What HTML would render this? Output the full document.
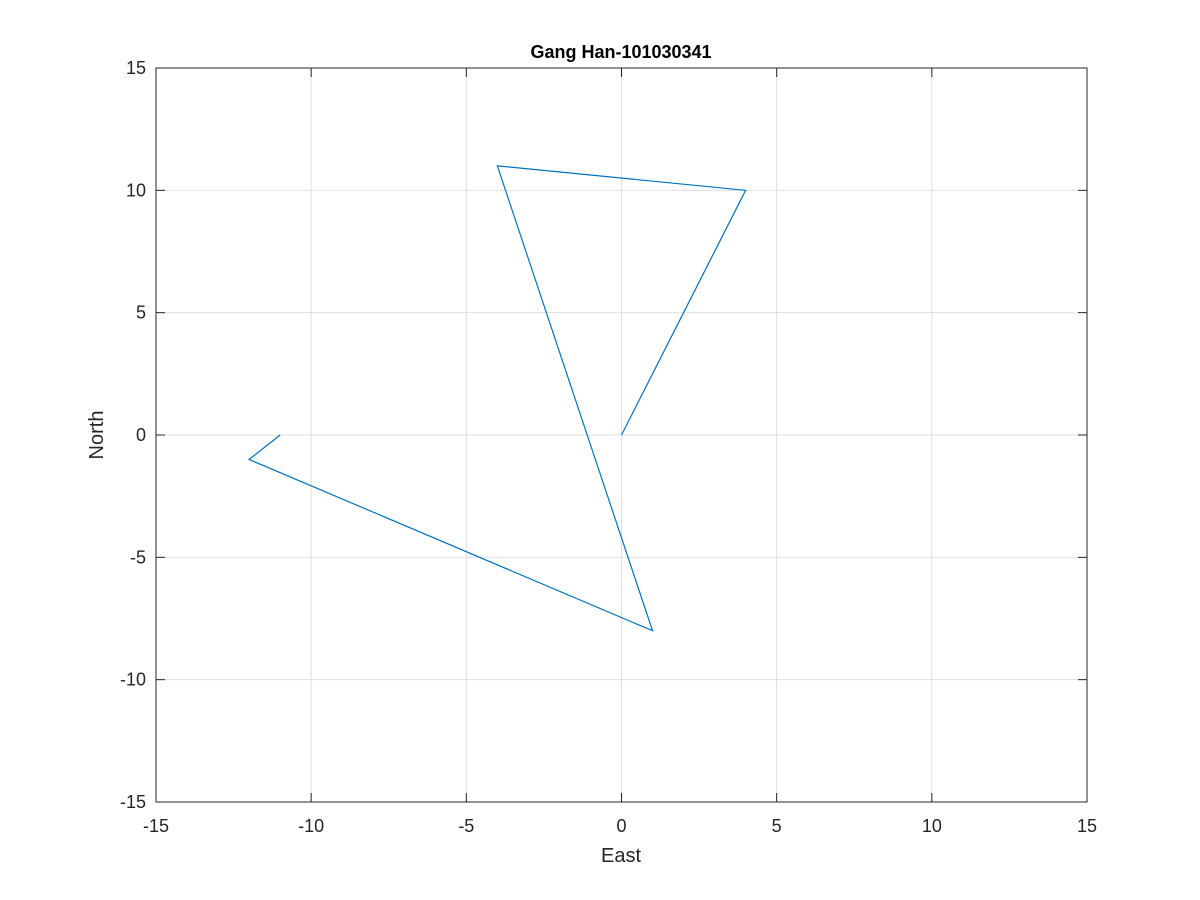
<!DOCTYPE html>
<html><head><meta charset="utf-8"><style>
body{margin:0;background:#fff;}
svg{display:block;font-family:"Liberation Sans",Arial,sans-serif;}
</style></head><body>
<svg id="chart" width="1200" height="900">
<rect width="1200" height="900" fill="#fff"/>
<g id="grid"></g>
<g id="ticks"></g>
<polyline id="path" fill="none" stroke="#0072bd" stroke-width="1.2"/>
<rect x="156" y="68" width="931" height="734" fill="none" stroke="#262626" stroke-width="1"/>
<text x="621" y="58" text-anchor="middle" font-size="18" font-weight="bold" fill="#000">Gang Han-101030341</text>
<text x="621" y="862" text-anchor="middle" font-size="20" fill="#262626">East</text>
<text x="103" y="435" text-anchor="middle" font-size="20" fill="#262626" transform="rotate(-90 103 435)">North</text>
</svg>
<script>
const eastValues=[0,4,-4,1,-12,-11];
const northValues=[0,10,11,-8,-1,0];
const xTicks=[-15,-10,-5,0,5,10,15];
const yTicks=[-15,-10,-5,0,5,10,15];
const L=156,R=1087,T=68,B=802;
function sx(v){return L+(v+15)/30*(R-L);}
function sy(v){return B-(v+15)/30*(B-T);}
const NS="http://www.w3.org/2000/svg";
const grid=document.getElementById('grid'),ticks=document.getElementById('ticks');
function mk(tag,attrs,parent){const e=document.createElementNS(NS,tag);for(const k in attrs)e.setAttribute(k,attrs[k]);parent.appendChild(e);return e;}
xTicks.forEach(t=>{
 const x=sx(t);
 const g=mk('line',{x1:x,x2:x,y1:T,y2:B,stroke:'#dfdfdf','stroke-width':1},grid);
 
 
 mk('line',{x1:x,x2:x,y1:B,y2:B-9,stroke:'#262626'},ticks);
 mk('line',{x1:x,x2:x,y1:T,y2:T+9,stroke:'#262626'},ticks);
 const tx=mk('text',{x:x,y:832,'text-anchor':'middle','font-size':18,fill:'#262626'},ticks);
 tx.textContent=t;
 
 
});
yTicks.forEach(t=>{
 const y=sy(t);
 const g=mk('line',{x1:L,x2:R,y1:y,y2:y,stroke:'#dfdfdf','stroke-width':1},grid);
 
 
 mk('line',{x1:L,x2:L+9,y1:y,y2:y,stroke:'#262626'},ticks);
 mk('line',{x1:R,x2:R-9,y1:y,y2:y,stroke:'#262626'},ticks);
 const tx=mk('text',{x:146,y:y+6,'text-anchor':'end','font-size':18,fill:'#262626'},ticks);
 tx.textContent=t;
 
 
});
document.getElementById('path').setAttribute('points',eastValues.map((e,i)=>sx(e)+','+sy(northValues[i])).join(' '));
</script>
</body></html>
